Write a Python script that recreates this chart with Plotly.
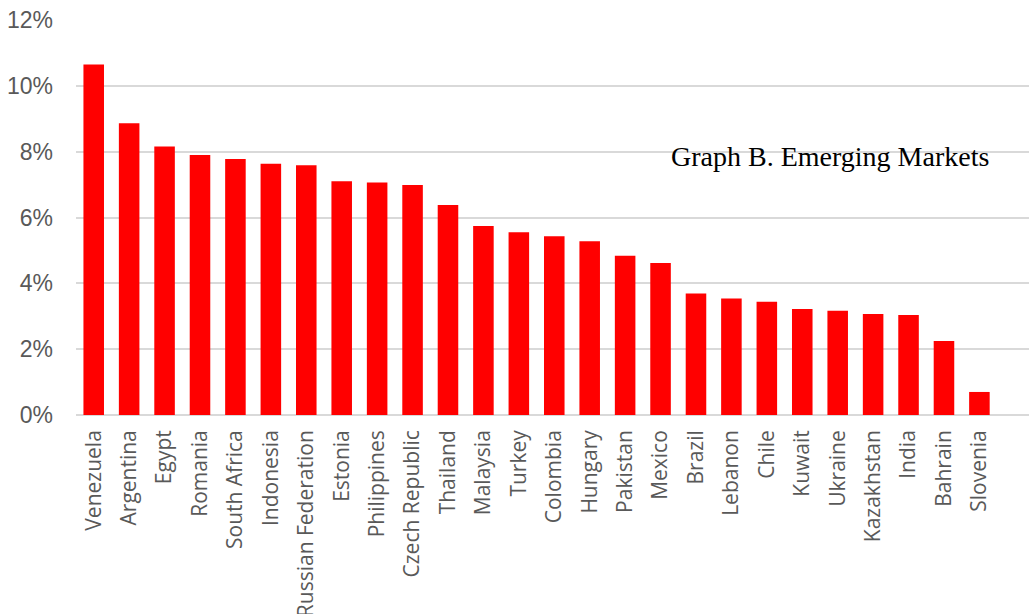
import plotly.graph_objects as go

countries = ["Venezuela", "Argentina", "Egypt", "Romania", "South Africa", "Indonesia",
             "Russian Federation", "Estonia", "Philippines", "Czech Republic", "Thailand",
             "Malaysia", "Turkey", "Colombia", "Hungary", "Pakistan", "Mexico", "Brazil",
             "Lebanon", "Chile", "Kuwait", "Ukraine", "Kazakhstan", "India", "Bahrain", "Slovenia"]
values = [10.65, 8.86, 8.16, 7.90, 7.78, 7.63, 7.59, 7.10, 7.06, 6.99, 6.38,
          5.74, 5.55, 5.43, 5.28, 4.84, 4.62, 3.69, 3.54, 3.44, 3.22, 3.17,
          3.07, 3.04, 2.25, 0.70]
y_ticks = [0, 2, 4, 6, 8, 10, 12]
y_labels = ["0%", "2%", "4%", "6%", "8%", "10%", "12%"]
title_text = "Graph B. Emerging Markets"

fig = go.Figure(go.Bar(x=countries, y=values, marker=dict(color="#ff0000", line=dict(width=0))))

fig.update_layout(
    width=1029, height=614,
    margin=dict(l=76, r=0, t=20, b=199),
    plot_bgcolor="white", paper_bgcolor="white",
    bargap=0.42,
    showlegend=False,
    font=dict(family="Open Sans", color="#595959"),
    annotations=[dict(text=title_text, xref="paper", yref="y", x=0.96, y=7.85,
                      xanchor="right", yanchor="middle", showarrow=False,
                      font=dict(family="Liberation Serif", size=28, color="black"))],
)
fig.update_xaxes(tickangle=-90, tickfont=dict(size=21, color="#595959"), showgrid=False,
                 showline=False, ticks="", range=[-0.5, 26.4], ticklabelstandoff=10,
                 automargin=False)
fig.update_yaxes(range=[0, 12], tickvals=y_ticks, ticktext=y_labels,
                 tickfont=dict(family="Liberation Sans", size=23, color="#595959"), showgrid=True,
                 gridcolor="#d9d9d9", gridwidth=1.5, zeroline=True, zerolinecolor="#d9d9d9",
                 zerolinewidth=1.5, ticks="", ticklabelstandoff=22, automargin=False)

fig.write_html("out.html")
